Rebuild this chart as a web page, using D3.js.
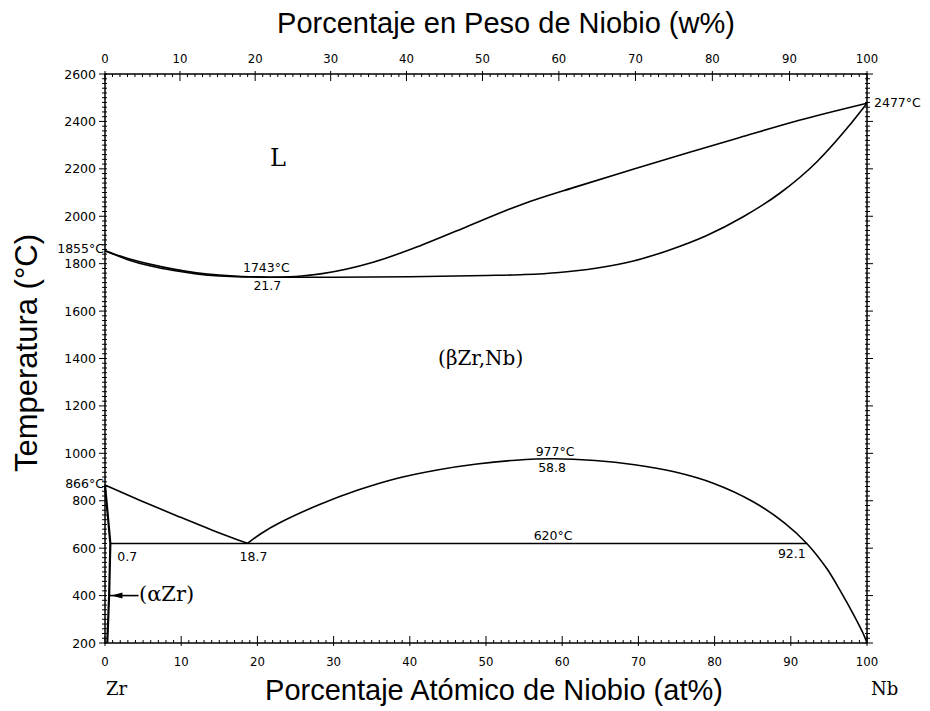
<!DOCTYPE html>
<html>
<head>
<meta charset="utf-8">
<script src="https://cdn.jsdelivr.net/npm/d3@7"></script>
<style>
  html, body { margin: 0; padding: 0; background: #fff; }
  svg text { fill: #000; }
  .tick-label { font-family: "Liberation Sans Narrow", "DejaVu Sans Condensed", "Liberation Sans", sans-serif; font-size: 13px; }
  .y-tick-label { font-family: "DejaVu Sans", sans-serif; font-size: 12.5px; }
  .title { font-family: "Liberation Sans", Arial, sans-serif; font-size: 29px; }
  .value-label { font-family: "DejaVu Sans", sans-serif; font-size: 12.5px; }
  .phase-label { font-family: "DejaVu Serif", serif; }
</style>
</head>
<body>
<svg id="diagram" width="930" height="711"></svg>
<script>
// temperatures (C) vs atomic percent Nb
const liquidus = [[0, 1855], [3, 1822], [6, 1797], [9, 1777], [12, 1762], [15, 1752], [18, 1746], [21.7, 1743],
  [25, 1746], [28.5, 1758], [35.3, 1807], [41.6, 1879], [47.4, 1955], [54.7, 2050], [61.9, 2125],
  [69.3, 2198], [76.5, 2268], [83.7, 2336], [91.1, 2405], [100, 2477]];
const solidus = [[0, 1855], [3, 1817], [6, 1790], [9, 1771], [12, 1757], [15, 1748], [18, 1744], [21.7, 1743],
  [30, 1743], [40, 1745], [50, 1750], [55, 1754], [59.6, 1763], [64.4, 1781], [69.2, 1810], [74, 1857],
  [78.9, 1918], [83.7, 1997], [88.6, 2098], [93.4, 2229], [97.4, 2372], [100, 2477]];
const betaBoundary = [[0, 866], [4.7, 800], [9.4, 737], [14, 677], [18.7, 620]];
const alphaBoundary = [[0, 866], [0.35, 745], [0.7, 620], [0.55, 410], [0.3, 200]];
const miscibilityGap = [[18.7, 620], [20.5, 662], [22.8, 705], [28, 782], [33.2, 845], [38.4, 895], [43.6, 930],
  [48.8, 955], [53.9, 971], [58.8, 977], [64.3, 970], [69.5, 952], [74.7, 922], [79.9, 873], [85, 797],
  [89.2, 706], [92.1, 620], [94.7, 515], [96.5, 420], [98.2, 322], [99.5, 240], [100, 200]];
const monotectoid = [[0.7, 620], [92.1, 620]];
const alphaArrow = [[4.4, 400], [0.45, 400]];

// point annotations: text, at% Nb, temperature
const valueLabels = [
  ['1855°C', 0, 1855], ['866°C', 0, 866], ['2477°C', 100, 2477],
  ['1743°C', 21.7, 1743], ['21.7', 21.7, 1743],
  ['977°C', 58.8, 977], ['58.8', 58.8, 977], ['620°C', 58.8, 620],
  ['0.7', 0.7, 620], ['18.7', 18.7, 620], ['92.1', 92.1, 620]
];
const phaseLabels = [['L', 22.7, 2212], ['(βZr,Nb)', 49.3, 1372], ['(αZr)', 4.46, 377]];

const atTicks = d3.range(0, 101, 10);
const wtTicks = d3.range(0, 101, 10);
const tempTicks = d3.range(200, 2601, 200);
const massZr = 91.224;
const massNb = 92.906;

/**
 * convert weight percent Nb to atomic percent Nb
 * @param {number} w weight percent
 * @return {number} atomic percent
 */
function wtToAt(w) {
  const nNb = w / massNb;
  const nZr = (100 - w) / massZr;
  return 100 * nNb / (nNb + nZr);
}

const margin = {left: 105, right: 63, top: 74, bottom: 68};
const width = 930 - margin.left - margin.right;
const height = 711 - margin.top - margin.bottom;

const sx = d3.scaleLinear().domain([0, 100]).range([margin.left, margin.left + width]);
const sy = d3.scaleLinear().domain([200, 2600]).range([margin.top + height, margin.top]);

const svg = d3.select('#diagram');

// --- frame and ticks
const x0 = sx(0), x1 = sx(100), y0 = sy(200), y1 = sy(2600);
svg.append('rect')
  .attr('x', x0).attr('y', y1)
  .attr('width', x1 - x0).attr('height', y0 - y1)
  .style('fill', 'none')
  .style('stroke', '#000')
  .style('stroke-width', 1.5);

const ticks = svg.append('g').style('stroke', '#000').style('stroke-width', 1);

// bottom: at%
d3.range(0, 101, 1).forEach(function(v) {
  const major = v % 10 === 0;
  ticks.append('line')
    .attr('x1', sx(v)).attr('x2', sx(v))
    .attr('y1', y0 - (major ? 7 : 3)).attr('y2', y0 + (major ? 3 : 0));
});
// top: wt%
d3.range(0, 101, 1).forEach(function(w) {
  const major = w % 10 === 0;
  const px = sx(wtToAt(w));
  ticks.append('line')
    .attr('x1', px).attr('x2', px)
    .attr('y1', y1 + (major ? 7 : 3)).attr('y2', y1 - (major ? 3 : 0));
});
// left and right: temperature
d3.range(200, 2601, 20).forEach(function(t) {
  const major = t % 200 === 0;
  ticks.append('line')
    .attr('x1', x0 - (major ? 6 : 3)).attr('x2', x0 + 2)
    .attr('y1', sy(t)).attr('y2', sy(t));
  ticks.append('line')
    .attr('x1', x1 - 2).attr('x2', x1 + (major ? 6 : 3))
    .attr('y1', sy(t)).attr('y2', sy(t));
});

svg.append('g').selectAll('text')
  .data(atTicks)
  .join('text')
  .attr('class', 'tick-label')
  .attr('x', d => sx(d))
  .attr('y', y0 + 23)
  .attr('text-anchor', 'middle')
  .text(d => d);

svg.append('g').selectAll('text')
  .data(wtTicks)
  .join('text')
  .attr('class', 'tick-label')
  .attr('x', d => sx(wtToAt(d)))
  .attr('y', y1 - 11)
  .attr('text-anchor', 'middle')
  .text(d => d);

svg.append('g').selectAll('text')
  .data(tempTicks)
  .join('text')
  .attr('class', 'y-tick-label')
  .attr('x', x0 - 9)
  .attr('y', d => sy(d) + 4.5)
  .attr('text-anchor', 'end')
  .text(d => d);

// --- titles
svg.append('text')
  .attr('class', 'title')
  .attr('x', 506).attr('y', 33)
  .attr('text-anchor', 'middle')
  .text('Porcentaje en Peso de Niobio (w%)');

svg.append('text')
  .attr('class', 'title')
  .attr('x', 494).attr('y', 700)
  .attr('text-anchor', 'middle')
  .text('Porcentaje Atómico de Niobio (at%)');

svg.append('text')
  .attr('class', 'title')
  .attr('transform', 'translate(37, 353) rotate(-90)')
  .attr('text-anchor', 'middle')
  .style('font-size', '31px')
  .text('Temperatura (°C)');

svg.append('text')
  .attr('class', 'phase-label')
  .attr('x', x0 + 1).attr('y', 695)
  .style('font-size', '18px')
  .text('Zr');
svg.append('text')
  .attr('class', 'phase-label')
  .attr('x', x1 + 4).attr('y', 695)
  .style('font-size', '18px')
  .text('Nb');

// --- phase boundaries
const smooth = d3.line()
  .x(d => sx(d[0]))
  .y(d => sy(d[1]))
  .curve(d3.curveMonotoneX);
const rounded = d3.line()
  .x(d => sx(d[0]))
  .y(d => sy(d[1]))
  .curve(d3.curveCatmullRom.alpha(0.5));
const straight = d3.line()
  .x(d => sx(d[0]))
  .y(d => sy(d[1]));

const curves = svg.append('g')
  .style('fill', 'none')
  .style('stroke', '#000')
  .style('stroke-width', 1.6)
  .style('stroke-linejoin', 'round');

[liquidus, solidus, betaBoundary].forEach(function(c) {
  curves.append('path').attr('d', smooth(c));
});
curves.append('path').attr('d', rounded(miscibilityGap));
curves.append('path').attr('d', straight(monotectoid));
curves.append('path').attr('d', straight(alphaBoundary)).style('stroke-width', 2.2);

// arrow pointing at the (aZr) field
curves.append('path').attr('d', straight(alphaArrow));
const tip = [sx(alphaArrow[1][0]), sy(alphaArrow[1][1])];
svg.append('path')
  .attr('d', `M${tip[0] + 3},${tip[1]} L${tip[0] + 14},${tip[1] - 3} L${tip[0] + 14},${tip[1] + 3} Z`)
  .style('fill', '#000');

// --- annotations
const labelOffsets = {
  '1855°C': [-1, 2.5, 'end'],
  '866°C': [-1, 3, 'end'],
  '2477°C': [7, 4, 'start'],
  '1743°C': [-4, -5, 'middle'],
  '21.7': [-3, 13, 'middle'],
  '977°C': [2, -3, 'middle'],
  '58.8': [-1, 13, 'middle'],
  '620°C': [0, -3, 'middle'],
  '0.7': [7, 18, 'start'],
  '18.7': [6, 18, 'middle'],
  '92.1': [-15, 15, 'middle']
};

svg.append('g').selectAll('text')
  .data(valueLabels)
  .join('text')
  .attr('class', 'value-label')
  .attr('x', d => sx(d[1]) + labelOffsets[d[0]][0])
  .attr('y', d => sy(d[2]) + labelOffsets[d[0]][1])
  .attr('text-anchor', d => labelOffsets[d[0]][2])
  .text(d => d[0]);

const phaseSize = {'L': 24, '(βZr,Nb)': 20, '(αZr)': 21};
svg.append('g').selectAll('text')
  .data(phaseLabels)
  .join('text')
  .attr('class', 'phase-label')
  .attr('x', d => sx(d[1]))
  .attr('y', d => sy(d[2]))
  .attr('text-anchor', d => d[0] === '(αZr)' ? 'start' : 'middle')
  .style('font-size', d => `${phaseSize[d[0]]}px`)
  .text(d => d[0]);
</script>
</body>
</html>
